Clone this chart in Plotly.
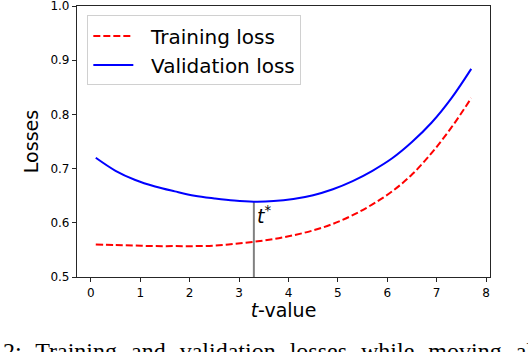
import plotly.graph_objects as go

t_values = [0.1, 0.5, 0.9, 1.3, 1.7, 2.1, 2.5, 2.9, 3.3, 3.7, 4.1, 4.5, 4.9, 5.3, 5.7, 6.1, 6.5, 6.9, 7.3, 7.7]
training_loss = [0.560, 0.559, 0.558, 0.557, 0.557, 0.557, 0.558, 0.561, 0.565, 0.570, 0.577, 0.586,
                 0.598, 0.614, 0.634, 0.658, 0.689, 0.729, 0.776, 0.830]
validation_loss = [0.720, 0.696, 0.679, 0.667, 0.658, 0.650, 0.645, 0.641, 0.639, 0.640, 0.644, 0.651,
                   0.662, 0.677, 0.696, 0.719, 0.749, 0.785, 0.830, 0.884]
t_star = 3.3
v_star = 0.639
x_ticks = [0, 1, 2, 3, 4, 5, 6, 7, 8]
y_ticks = [0.5, 0.6, 0.7, 0.8, 0.9, 1.0]
series_names = ["Training loss", "Validation loss"]
caption_words = ["2:", "Training", "and", "validation", "losses", "while", "moving", "along", "the"]

font = "DejaVu Sans"
pad = "\u00a0\u00a0"

fig = go.Figure()
fig.add_trace(go.Scatter(x=[t_star, t_star], y=[0.5, v_star], mode="lines",
                         line=dict(color="#808080", width=2), showlegend=False, hoverinfo="skip"))
fig.add_trace(go.Scatter(x=t_values, y=training_loss, mode="lines", name=pad + series_names[0],
                         line=dict(color="red", width=2, dash="7px,3px", shape="spline")))
fig.add_trace(go.Scatter(x=t_values, y=validation_loss, mode="lines", name=pad + series_names[1],
                         line=dict(color="blue", width=2, shape="spline")))

fig.add_annotation(x=t_star, y=0.614, xref="x", yref="y", text="<i>t</i><sup>*</sup>",
                   showarrow=False, xanchor="left", yanchor="middle", xshift=1,
                   font=dict(family=font, size=19, color="black"))

fig.add_annotation(x=-0.184, y=-0.2177, xref="paper", yref="paper",
                   text="\u00a0\u200a ".join(caption_words),
                   showarrow=False, xanchor="left", yanchor="top",
                   font=dict(family="Liberation Serif", size=24, color="black"))

axis_common = dict(showline=True, linecolor="#262626", linewidth=1.2, mirror=True,
                   ticks="outside", ticklen=4, tickwidth=1, tickcolor="#262626",
                   showgrid=False, zeroline=False, automargin=False,
                   ticklabeloverflow="allow",
                   tickfont=dict(family=font, size=12, color="black"))

fig.update_layout(
    width=528, height=352,
    margin=dict(l=77, r=38, t=6, b=75),
    paper_bgcolor="white", plot_bgcolor="white",
    xaxis=dict(range=[-0.28, 8.08], tickvals=x_ticks,
               title=dict(text="<i>t</i>-value", font=dict(family=font, size=19, color="black"), standoff=4),
               **axis_common),
    yaxis=dict(range=[0.5, 1.0], tickvals=y_ticks, tickformat=".1f",
               title=dict(text="Losses", font=dict(family=font, size=19, color="black"), standoff=6),
               **axis_common),
    legend=dict(x=0.025, y=0.965, xanchor="left", yanchor="top",
                bgcolor="rgba(255,255,255,0.8)", bordercolor="#d0d0d0", borderwidth=1,
                font=dict(family=font, size=20, color="black"), itemwidth=40),
)

fig.write_html("out.html", config={"displayModeBar": False},
               post_script="document.body.style.margin='0';document.body.style.overflow='hidden';")
